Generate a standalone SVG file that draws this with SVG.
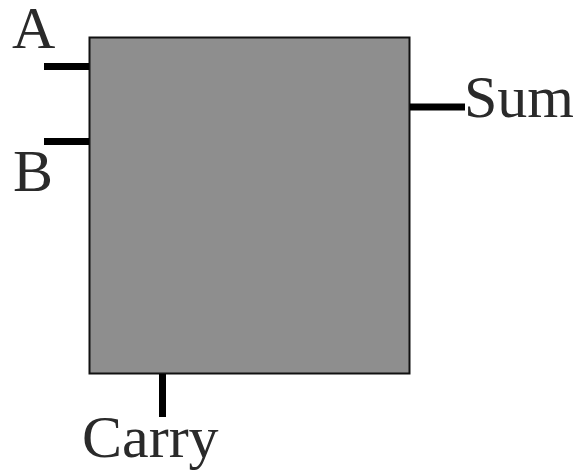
<svg xmlns="http://www.w3.org/2000/svg" width="578" height="471" viewBox="0 0 578 471">
<style>
.lbl{font-family:"Liberation Serif","Times New Roman",serif;font-size:60px;fill:#2a2a2a}
.wire{stroke:#000;stroke-width:7;fill:none}
</style>
<rect width="578" height="471" fill="#fff"/>
<g id="adder">
<rect x="89.5" y="37.5" width="320" height="336" fill="#8e8e8e" stroke="#111" stroke-width="2"/>
</g>
<g id="connectors">
<line class="wire" x1="44" y1="66.5" x2="89" y2="66.5"/>
<line class="wire" x1="44" y1="141.5" x2="89" y2="141.5"/>
<line class="wire" x1="410" y1="107" x2="465" y2="107"/>
<line class="wire" x1="162.5" y1="374" x2="162.5" y2="417"/>
</g>
<g id="label-A"><text class="lbl" x="12" y="48">A</text></g>
<g id="label-B"><text class="lbl" x="13" y="191">B</text></g>
<g id="label-Sum"><text class="lbl" x="464" y="117">Sum</text></g>
<g id="label-Carry"><text class="lbl" x="82" y="457">Carry</text></g>
</svg>
